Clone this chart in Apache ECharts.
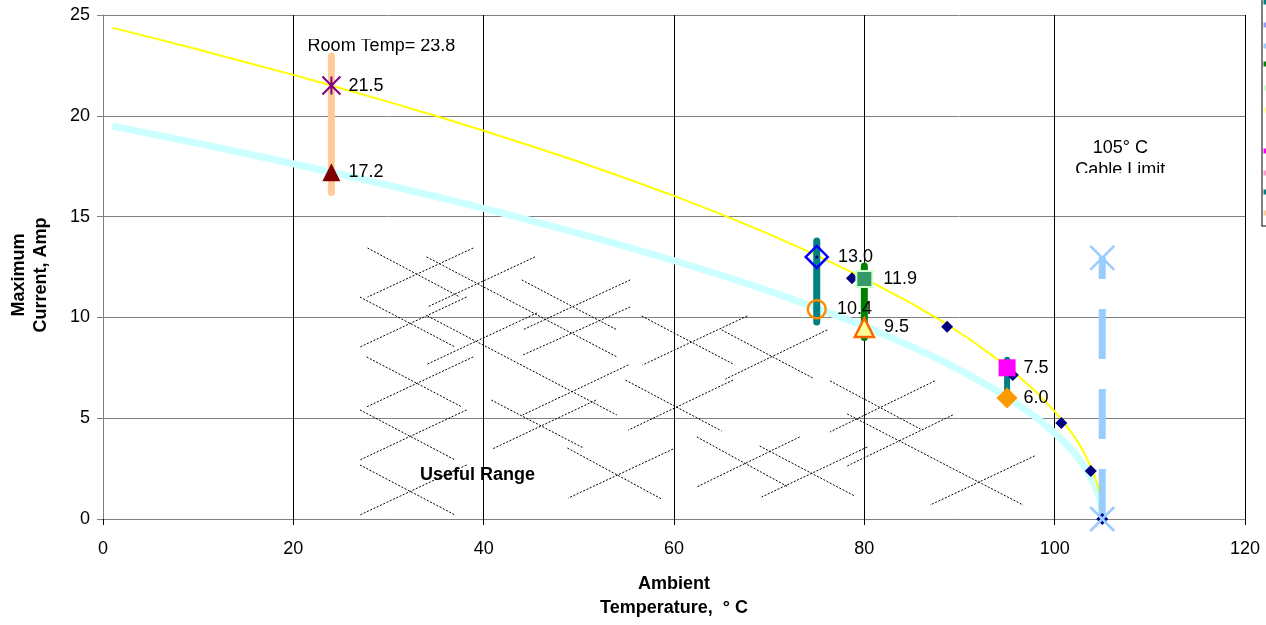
<!DOCTYPE html>
<html>
<head>
<meta charset="utf-8">
<script src="https://cdn.jsdelivr.net/npm/echarts@6/dist/echarts.min.js"></script>
<style>
html,body{margin:0;padding:0;background:#fff;}
#chart{width:1266px;height:625px;}
</style>
</head>
<body>
<div id="chart"></div>
<script>
// ---- data ----
const xTicksInterval = 20;
const yTicksInterval = 5;
const curveT = [1, 5, 10, 15, 20, 24, 30, 35, 40, 45, 50, 55, 60, 65, 70, 75, 80, 85, 88, 91, 94, 96, 98, 100, 101, 102, 103, 104, 104.5, 104.8, 105];
const upperCurve = [24.36, 23.89, 23.29, 22.66, 22.03, 21.50, 20.69, 19.99, 19.26, 18.50, 17.72, 16.89, 16.03, 15.11, 14.13, 13.08, 11.94, 10.68, 9.85, 8.94, 7.92, 7.17, 6.32, 5.34, 4.78, 4.14, 3.38, 2.39, 1.69, 1.07, 0];
const lowerCurve = [19.49, 19.11, 18.63, 18.13, 17.62, 17.20, 16.55, 15.99, 15.41, 14.80, 14.17, 13.51, 12.82, 12.09, 11.31, 10.47, 9.56, 8.55, 7.88, 7.15, 6.34, 5.73, 5.06, 4.27, 3.82, 3.31, 2.70, 1.91, 1.35, 0.85, 0];

const asteriskPt = [24, 21.5];
const darkTriPt = [24, 17.2];
const blueDiamondPt = [75, 13.0];
const orangeCirclePt = [75, 10.4];
const greenSquarePt = [80, 11.9];
const yellowTriPt = [80, 9.5];
const magentaSquarePt = [95, 7.5];
const orangeDiamondPt = [95, 6.0];
const cableCrossPts = [[105, 12.95], [105, 0]];
const navyDiamonds = [[78.7, 11.94], [88.7, 9.54], [95.6, 7.14], [100.7, 4.76], [103.8, 2.38], [105, 0]];
const navyDot = [75, 13.0];

const peachBar = [[24, 16.2], [24, 22.97]];
const tealBar75 = [[75, 9.77], [75, 13.79]];
const greenBar80 = [[80, 9.0], [80, 12.55]];
const tealBar95 = [[95, 6.0], [95, 7.9]];
const cableLine = [[105, 0], [105, 13.0]];

const roomTempText = 'Room Temp= 23.8';
const roomTempPos = [21.5, 23.46];
const cableText = '105° C\nCable Limit';
const cablePos = [106.9, 17.86];
const usefulText = 'Useful Range';
const usefulPos = [39.35, 2.18];

const hatchSegments = [
 [[27.8,13.44],[37.5,11.01]],
 [[38.9,13.44],[27.8,11.01]],
 [[34.0,13.0],[54.0,8.04]],
 [[45.4,13.0],[34.1,10.52]],
 [[27.0,11.01],[37.0,8.53]],
 [[38.2,11.01],[27.0,8.53]],
 [[34.1,10.07],[54.0,5.16]],
 [[45.6,10.22],[34.1,7.69]],
 [[27.7,8.04],[37.7,5.56]],
 [[38.9,8.04],[27.7,5.56]],
 [[27.0,5.41],[37.0,2.93]],
 [[38.2,5.41],[27.0,2.93]],
 [[27.0,2.68],[37.0,0.20]],
 [[38.2,2.68],[27.0,0.20]],
 [[40.8,5.90],[50.5,3.52]],
 [[51.8,5.90],[40.9,3.47]],
 [[48.8,3.52],[58.7,0.99]],
 [[59.9,3.47],[48.9,1.04]],
 [[55.2,7.64],[44.1,5.16]],
 [[66.2,6.89],[55.2,4.41]],
 [[54.9,6.89],[65.0,4.37]],
 [[44.0,11.86],[54.0,9.38]],
 [[55.4,11.86],[44.1,9.38]],
 [[55.4,10.52],[44.1,8.13]],
 [[56.6,10.07],[66.2,7.69]],
 [[67.7,10.07],[56.7,7.64]],
 [[65.0,9.38],[74.6,6.99]],
 [[76.1,9.38],[65.4,6.94]],
 [[62.4,4.07],[72.0,1.59]],
 [[73.2,4.07],[62.4,1.59]],
 [[69.0,3.62],[79.0,1.14]],
 [[80.3,3.57],[69.2,1.09]],
 [[76.4,6.85],[85.9,4.46]],
 [[87.4,6.85],[76.4,4.32]],
 [[78.2,5.21],[96.7,0.69]],
 [[89.3,5.16],[78.2,2.63]],
 [[97.9,3.13],[86.9,0.69]]
];

const legendStubColors = ['#008080', '#9999FF', '#99CCFF', '#008000', '#CCFFCC', '#FFFF99', '#FF00FF', '#FF99CC', '#008080', '#FFCC99'];
const legendStubY = [2, 25, 46, 64, 88, 110, 151, 173, 192, 213];

// ---- chart ----
const FONT = 'Liberation Sans, Arial, sans-serif';
const chart = echarts.init(document.getElementById('chart'));

function bar(data, color, width) {
  return { type: 'line', data: data, symbol: 'none', silent: true, z: 4,
    lineStyle: { color: color, width: width, cap: 'round' } };
}
function valueLabel(distance) {
  return { show: true, position: 'right', distance: distance, color: '#000',
    fontSize: 18, fontFamily: FONT, formatter: p => p.value[1].toFixed(1) };
}
function marker(pt, symbol, size, style, labelDist) {
  return { type: 'scatter', data: [pt], symbol: symbol, symbolSize: size, z: 6,
    itemStyle: Object.assign({ opacity: 1 }, style),
    label: labelDist == null ? { show: false } : valueLabel(labelDist) };
}
function textAt(pos, text, opts) {
  return { type: 'scatter', data: [pos], symbolSize: 0, z: 7, silent: true,
    itemStyle: { color: 'transparent', opacity: 1 },
    label: Object.assign({ show: true, formatter: text, color: '#000', fontSize: 18, fontFamily: FONT }, opts) };
}

const option = {
  animation: false,
  backgroundColor: '#fff',
  grid: { left: 100, right: 21, top: 15, bottom: 106, containLabel: false },
  xAxis: {
    type: 'value', min: 0, max: 120, interval: xTicksInterval,
    name: 'Ambient\nTemperature,  ° C', nameLocation: 'middle', nameGap: 53,
    nameTextStyle: { fontSize: 18, fontWeight: 'bold', fontFamily: FONT, color: '#000', lineHeight: 24 },
    axisLine: { lineStyle: { color: '#808080', width: 1 } },
    axisTick: { show: true, length: 6, lineStyle: { color: '#000' } },
    axisLabel: { fontSize: 18, fontFamily: FONT, color: '#000', margin: 21 },
    splitLine: { show: true, lineStyle: { color: '#000', width: 1 } }
  },
  yAxis: {
    type: 'value', min: 0, max: 25, interval: yTicksInterval,
    name: 'Maximum\nCurrent, Amp', nameLocation: 'middle', nameGap: 51, nameRotate: 90,
    nameTextStyle: { fontSize: 18, fontWeight: 'bold', fontFamily: FONT, color: '#000', lineHeight: 22, padding: [0, 16, 0, 0] },
    axisLine: { show: true, lineStyle: { color: '#808080', width: 1 } },
    axisTick: { show: true, length: 6, lineStyle: { color: '#808080' } },
    axisLabel: { fontSize: 18, fontFamily: FONT, color: '#000', margin: 13 },
    splitLine: { show: true, lineStyle: { color: '#808080', width: 1 } }
  },
  series: [
    { type: 'lines', coordinateSystem: 'cartesian2d', silent: true, z: 1,
      data: hatchSegments.map(s => ({ coords: s })),
      lineStyle: { color: '#000', width: 1, type: [2, 1.6], opacity: 1 } },
    { type: 'line', data: curveT.map((t, i) => [t, lowerCurve[i]]), symbol: 'none', smooth: false, z: 2,
      lineStyle: { color: '#CCFFFF', width: 7, join: 'round' } },
    { type: 'line', data: curveT.map((t, i) => [t, upperCurve[i]]), symbol: 'none', smooth: false, z: 3,
      lineStyle: { color: '#FFFF00', width: 2, join: 'round' } },
    bar(peachBar, '#FFCC99', 7),
    bar(tealBar75, '#008080', 7),
    bar(greenBar80, '#008000', 7),
    bar(tealBar95, '#008080', 6),
    { type: 'line', data: cableLine, symbol: 'none', silent: true, z: 4,
      lineStyle: { color: '#99CCFF', width: 7, type: [50, 30], cap: 'butt' } },
    { type: 'scatter', data: navyDiamonds, symbol: 'diamond', symbolSize: 12, z: 5,
      itemStyle: { color: '#000080', opacity: 1 } },
    marker(navyDot, 'circle', 3, { color: '#000080' }, null),
    marker(asteriskPt, 'path://M0,0L10,10M10,0L0,10M5,0L5,10', 18, { color: 'rgba(0,0,0,0)', borderColor: '#800080', borderWidth: 2 }, 7),
    marker(darkTriPt, 'triangle', 18, { color: '#800000' }, 8),
    marker(blueDiamondPt, 'diamond', 22, { color: 'rgba(0,0,0,0)', borderColor: '#0000FF', borderWidth: 2.5 }, 9),
    marker(orangeCirclePt, 'circle', 18, { color: 'rgba(0,0,0,0)', borderColor: '#FF8C00', borderWidth: 2.5 }, 10),
    marker(greenSquarePt, 'rect', 16, { color: '#339966', borderColor: '#CCFFCC', borderWidth: 2 }, 10),
    marker(yellowTriPt, 'triangle', 19, { color: '#FFFF99', borderColor: '#FF6600', borderWidth: 2.5 }, 9),
    marker(magentaSquarePt, 'rect', 17, { color: '#FF00FF' }, 8),
    marker(orangeDiamondPt, 'diamond', 21, { color: '#FF9900' }, 6),
    { type: 'scatter', data: cableCrossPts, symbol: 'path://M0,0L10,10M10,0L0,10', symbolSize: 24, z: 6,
      itemStyle: { color: 'rgba(0,0,0,0)', borderColor: '#99CCFF', borderWidth: 2.5, opacity: 1 } },
    textAt(roomTempPos, roomTempText, { position: 'right', distance: 0 }),
    textAt(cablePos, cableText, { position: 'inside', align: 'center', lineHeight: 22 }),
    textAt(usefulPos, usefulText, { position: 'inside', align: 'center', fontWeight: 'bold' })
  ],
  graphic: [
    { type: 'rect', z: 100, shape: { x: 300, y: 28, width: 165, height: 11 }, style: { fill: '#fff' } },
    { type: 'rect', z: 100, shape: { x: 1062, y: 173, width: 120, height: 14 }, style: { fill: '#fff' } },
    { type: 'rect', z: 100, shape: { x: 1262, y: -2, width: 20, height: 228 }, style: { fill: '#fff', stroke: '#555', lineWidth: 1.5 } }
  ].concat(legendStubColors.map((c, i) => ({
    type: 'rect', z: 101, shape: { x: 1263.5, y: legendStubY[i] - 2.5, width: 3, height: 5 }, style: { fill: c }
  })))
};
chart.setOption(option);
</script>
</body>
</html>
